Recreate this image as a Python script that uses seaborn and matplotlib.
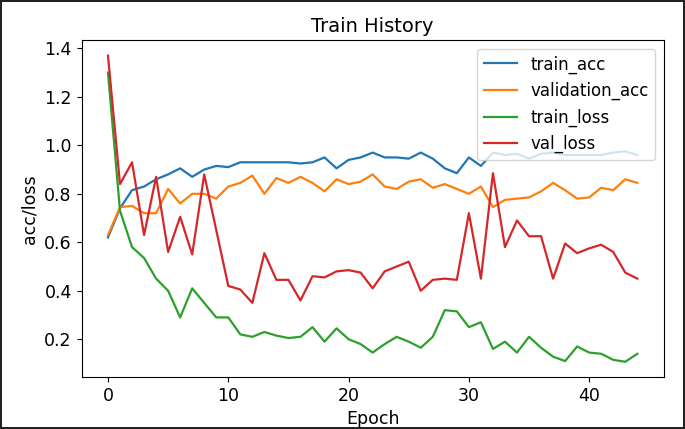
import pandas as pd
import matplotlib
matplotlib.use('Agg')
import matplotlib.pyplot as plt
import seaborn as sns

# Valores
epochs = list(range(45))

train_acc = [0.62, 0.74, 0.815, 0.83, 0.86, 0.88, 0.905, 0.87, 0.90, 0.915,
             0.91, 0.93, 0.93, 0.93, 0.93, 0.93, 0.925, 0.93, 0.95, 0.905,
             0.94, 0.95, 0.97, 0.95, 0.95, 0.945, 0.97, 0.945, 0.905, 0.885,
             0.95, 0.915, 0.97, 0.96, 0.965, 0.945, 0.965, 0.97, 0.96, 0.96,
             0.96, 0.96, 0.97, 0.975, 0.96]

validation_acc = [0.63, 0.745, 0.75, 0.72, 0.72, 0.82, 0.76, 0.80, 0.80, 0.78,
                  0.83, 0.845, 0.875, 0.80, 0.865, 0.845, 0.87, 0.845, 0.81, 0.86,
                  0.84, 0.85, 0.88, 0.83, 0.82, 0.85, 0.86, 0.825, 0.84, 0.82,
                  0.80, 0.83, 0.745, 0.775, 0.78, 0.785, 0.81, 0.845, 0.815, 0.78,
                  0.785, 0.825, 0.815, 0.86, 0.845]

train_loss = [1.30, 0.73, 0.58, 0.535, 0.45, 0.40, 0.29, 0.41, 0.35, 0.29,
              0.29, 0.22, 0.21, 0.23, 0.215, 0.205, 0.21, 0.25, 0.19, 0.245,
              0.20, 0.18, 0.145, 0.18, 0.21, 0.19, 0.165, 0.21, 0.32, 0.315,
              0.25, 0.27, 0.16, 0.19, 0.145, 0.21, 0.165, 0.128, 0.11, 0.17,
              0.145, 0.14, 0.115, 0.107, 0.14]

val_loss = [1.37, 0.84, 0.93, 0.63, 0.87, 0.56, 0.705, 0.55, 0.88, 0.65,
            0.42, 0.405, 0.35, 0.555, 0.445, 0.445, 0.36, 0.46, 0.455, 0.48,
            0.485, 0.475, 0.41, 0.48, 0.50, 0.52, 0.40, 0.445, 0.45, 0.445,
            0.72, 0.45, 0.885, 0.58, 0.69, 0.625, 0.625, 0.45, 0.595, 0.555,
            0.575, 0.59, 0.56, 0.475, 0.45]

series = ['train_acc', 'validation_acc', 'train_loss', 'val_loss']

df = pd.DataFrame({
    'Epoch': epochs * 4,
    'valor': train_acc + validation_acc + train_loss + val_loss,
    'serie': [s for s in series for _ in epochs],
})

cores = ['#1f77b4', '#ff7f0e', '#2ca02c', '#d62728']

plt.rcParams['font.size'] = 12.5
fig = plt.figure(figsize=(6.85, 4.29), dpi=100)
fig.patch.set_edgecolor('#222222')
fig.patch.set_linewidth(1.5)
ax = fig.add_axes([0.119, 0.121, 0.850, 0.785])

sns.lineplot(data=df, x='Epoch', y='valor', hue='serie', hue_order=series,
             palette=cores, linewidth=1.6, ax=ax)

ax.set_title('Train History', fontsize=14)
ax.set_xlabel('Epoch')
ax.set_ylabel('acc/loss')
handles, labels = ax.get_legend_handles_labels()
ax.legend(handles, labels, loc='upper right', fontsize=12)

fig.savefig('out.png', dpi=100)
plt.close()
